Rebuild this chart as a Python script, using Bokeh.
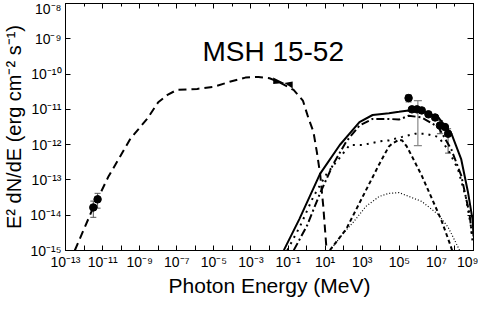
import numpy as np
from bokeh.plotting import figure
from bokeh.models import (Range1d, FixedTicker, LogAxis, ColumnDataSource, Whisker,
                          TeeHead, Label, CustomJSTickFormatter)
from bokeh.embed import file_html
from bokeh.resources import INLINE

# ---------------- data (log10 of energy in MeV, log10 of E^2 dN/dE) ----------------
sync_logE = [-12.5, -11.6, -10.7, -9.5, -8.6, -8.0, -7.5, -7.0, -5.9, -5.0, -4.15, -3.3,
             -2.6, -2.0, -1.5, -0.7, -0.2, 0.1, 0.37, 0.55, 0.73, 0.9, 1.08]
sync_logF = [-15.0, -13.9, -12.92, -11.83, -11.27, -10.8, -10.59, -10.45, -10.42, -10.36,
             -10.22, -10.1, -10.08, -10.12, -10.22, -10.45, -10.75, -11.25, -11.64, -12.2,
             -12.83, -13.75, -15.0]

total_logE = [-1.225, -0.39, 0.725, 1.79, 2.85, 3.56, 4.44, 4.98, 5.5, 6.21, 7.1, 7.81,
              8.34, 8.7, 8.96, 9.0]
total_logF = [-14.99, -14.11, -12.83, -12.01, -11.36, -11.16, -11.11, -11.07, -11.03,
              -11.04, -11.23, -11.69, -12.42, -13.34, -14.16, -14.6]

dashdot_logE = [-0.69, 0.02, 0.725, 1.43, 2.14, 2.85, 3.56, 4.44, 4.98, 5.5, 6.21, 7.1,
                7.81, 8.34, 8.79, 8.91]
dashdot_logF = [-14.99, -14.3, -13.38, -12.56, -11.91, -11.46, -11.27, -11.27, -11.29,
                -11.18, -11.23, -11.5, -12.14, -12.88, -13.98, -14.53]

dotted_logE = [-1.04, -0.34, 0.37, 1.08, 1.79, 2.32, 3.03, 3.91, 4.44, 4.98, 5.15, 5.86,
               6.39, 7.1, 7.63, 8.16, 8.6, 8.87, 8.95]
dotted_logF = [-14.99, -14.3, -13.47, -12.83, -12.37, -12.01, -12.01, -11.91, -11.88,
               -11.8, -11.78, -11.69, -11.69, -11.78, -12.14, -12.69, -13.52, -14.34,
               -14.75]

dashed_logE = [1.26, 2.14, 3.03, 3.91, 4.44, 4.62, 4.98, 5.15, 5.4, 5.68, 6.21, 6.75,
               7.28, 7.72, 7.85]
dashed_logF = [-14.99, -14.39, -13.47, -12.56, -12.05, -11.97, -11.86, -11.88, -12.05,
               -12.33, -12.88, -13.52, -14.16, -14.8, -15.0]

fine_logE = [1.26, 2.0, 2.5, 3.2, 3.91, 4.44, 4.98, 5.33, 6.21, 7.1, 7.63, 8.07, 8.25]
fine_logF = [-15.0, -14.5, -14.21, -13.75, -13.47, -13.38, -13.36, -13.43, -13.61,
             -13.98, -14.34, -14.8, -15.0]

# radio points
radio_logE = [-11.5, -11.27]
radio_logF = [-13.78, -13.55]
radio_lo = [-14.06, -13.8]
radio_hi = [-13.6, -13.38]

# X-ray bowtie
bow_logE = [-1.8, -1.2, -0.75]
bow_lo = [-10.28, -10.25, -10.41]
bow_hi = [-10.1, -10.25, -10.21]

# TeV points
tev_logE = [5.5, 5.68, 5.95, 6.21, 6.57, 6.93, 7.19, 7.46, 7.63]
tev_logF = [-10.68, -11.0, -11.0, -11.03, -11.14, -11.23, -11.46, -11.5, -11.69]
tev_lo = [-10.79, -11.04, -11.04, -11.07, -11.18, -11.27, -11.69, -11.55, -12.24]
tev_hi = [-10.59, -10.96, -10.96, -10.99, -11.1, -11.19, -11.32, -11.45, -11.55]

# grey wide bar
grey_logE = [6.0]
grey_lo = [-12.03]
grey_hi = [-10.75]

x_tick_vals = [1e-13, 1e-11, 1e-9, 1e-7, 1e-5, 1e-3, 1e-1, 1e1, 1e3, 1e5, 1e7, 1e9]
x_tick_labels = ["10⁻¹³", "10⁻¹¹", "10⁻⁹", "10⁻⁷", "10⁻⁵", "10⁻³", "10⁻¹", "10¹",
                 "10³", "10⁵", "10⁷", "10⁹"]
x_minor_vals = [1e-12, 1e-10, 1e-8, 1e-6, 1e-4, 1e-2, 1e0, 1e2, 1e4, 1e6, 1e8]
y_tick_vals = [1e-15, 1e-14, 1e-13, 1e-12, 1e-11, 1e-10, 1e-9, 1e-8]
y_tick_labels = ["10⁻¹⁵", "10⁻¹⁴", "10⁻¹³", "10⁻¹²", "10⁻¹¹", "10⁻¹⁰", "10⁻⁹", "10⁻⁸"]

title_text = "MSH 15-52"
x_label = "Photon Energy (MeV)"
y_label = "E² dN/dE (erg cm⁻² s⁻¹)"

TITLE_POS = (-1.8, -9.35)   # log10 data units


def p10(a):
    return list(10.0 ** np.asarray(a, dtype=float))


FONT = "Liberation Sans"

p = figure(width=478, height=299, x_axis_type="log", y_axis_type="log",
           x_range=Range1d(1e-13, 1e9), y_range=Range1d(1e-15, 1e-8),
           output_backend="svg", toolbar_location=None,
           min_border_left=59, min_border_right=5, min_border_top=3, min_border_bottom=44)
p.grid.visible = False
p.outline_line_color = "black"
p.outline_line_width = 1
p.background_fill_color = "white"
p.border_fill_color = "white"

xt = FixedTicker(ticks=x_tick_vals, minor_ticks=x_minor_vals)
yt = FixedTicker(ticks=y_tick_vals, minor_ticks=[])

xa = p.xaxis[0]
xa.ticker = xt
xa.major_label_overrides = dict(zip(x_tick_vals, x_tick_labels))
ya = p.yaxis[0]
ya.ticker = yt
ya.major_label_overrides = dict(zip(y_tick_vals, y_tick_labels))

for ax in (xa, ya):
    ax.major_tick_in = 5
    ax.major_tick_out = 0
    ax.minor_tick_in = 5
    ax.minor_tick_out = 0
    ax.axis_line_color = "black"
    ax.major_label_text_font = FONT
    ax.major_label_text_font_size = "14px"
    ax.major_label_text_color = "black"
    ax.axis_label_text_font = FONT
    ax.axis_label_text_font_style = "normal"
    ax.axis_label_text_color = "black"

xa.axis_label = x_label
xa.axis_label_text_font_size = "21px"
xa.major_label_standoff = 3
xa.axis_label_standoff = 1
ya.axis_label = y_label
ya.axis_label_text_font_size = "20px"
ya.major_label_standoff = 4
ya.axis_label_standoff = 2

blank = CustomJSTickFormatter(code="return '';")
top = LogAxis(ticker=FixedTicker(ticks=x_tick_vals, minor_ticks=x_minor_vals), formatter=blank,
              major_tick_in=5, major_tick_out=0, minor_tick_in=3, minor_tick_out=0,
              major_label_standoff=0, major_label_text_font_size="0px",
              axis_label_standoff=0)
right = LogAxis(ticker=FixedTicker(ticks=y_tick_vals, minor_ticks=[]), formatter=blank,
                major_tick_in=6, major_tick_out=0, minor_tick_in=0, minor_tick_out=0,
                major_label_standoff=0, major_label_text_font_size="0px",
                axis_label_standoff=0)
p.add_layout(top, "above")
p.add_layout(right, "right")

# model curves
p.line(p10(sync_logE), p10(sync_logF), line_color="black", line_width=2, line_dash="8 5")
p.line(p10(total_logE), p10(total_logF), line_color="black", line_width=2)
p.line(p10(dashdot_logE), p10(dashdot_logF), line_color="black", line_width=2,
       line_dash="8 3 2 3")
p.line(p10(dotted_logE), p10(dotted_logF), line_color="black", line_width=2, line_dash="2 5")
p.line(p10(dashed_logE), p10(dashed_logF), line_color="black", line_width=2, line_dash="4 3")
p.line(p10(fine_logE), p10(fine_logF), line_color="black", line_width=1.2, line_dash="1 2")

# bowtie
p.varea(x=p10(bow_logE), y1=p10(bow_lo), y2=p10(bow_hi), fill_color="black")

# grey error bar
gsrc = ColumnDataSource(dict(x=p10(grey_logE), lo=p10(grey_lo), hi=p10(grey_hi)))
p.add_layout(Whisker(base="x", lower="lo", upper="hi", source=gsrc, line_color="#888888",
                     line_width=1.2,
                     upper_head=TeeHead(size=8, line_color="#888888", line_width=1.2),
                     lower_head=TeeHead(size=8, line_color="#888888", line_width=1.2)))

# data points with error bars
for le, lf, lo, hi in ((radio_logE, radio_logF, radio_lo, radio_hi),
                       (tev_logE, tev_logF, tev_lo, tev_hi)):
    src = ColumnDataSource(dict(x=p10(le), y=p10(lf), lo=p10(lo), hi=p10(hi)))
    p.add_layout(Whisker(base="x", lower="lo", upper="hi", source=src, line_color="#555555",
                         line_width=1,
                         upper_head=TeeHead(size=6, line_color="#555555", line_width=1),
                         lower_head=TeeHead(size=6, line_color="#555555", line_width=1)))
    p.scatter("x", "y", source=src, marker="circle", size=7.5, fill_color="black",
              line_color="black")

# title label
p.add_layout(Label(x=10 ** TITLE_POS[0], y=10 ** TITLE_POS[1], text=title_text,
                   text_align="center", text_baseline="alphabetic", text_font=FONT,
                   text_font_size="28px", text_color="black"))

open("out.html", "w").write(file_html(p, INLINE))
